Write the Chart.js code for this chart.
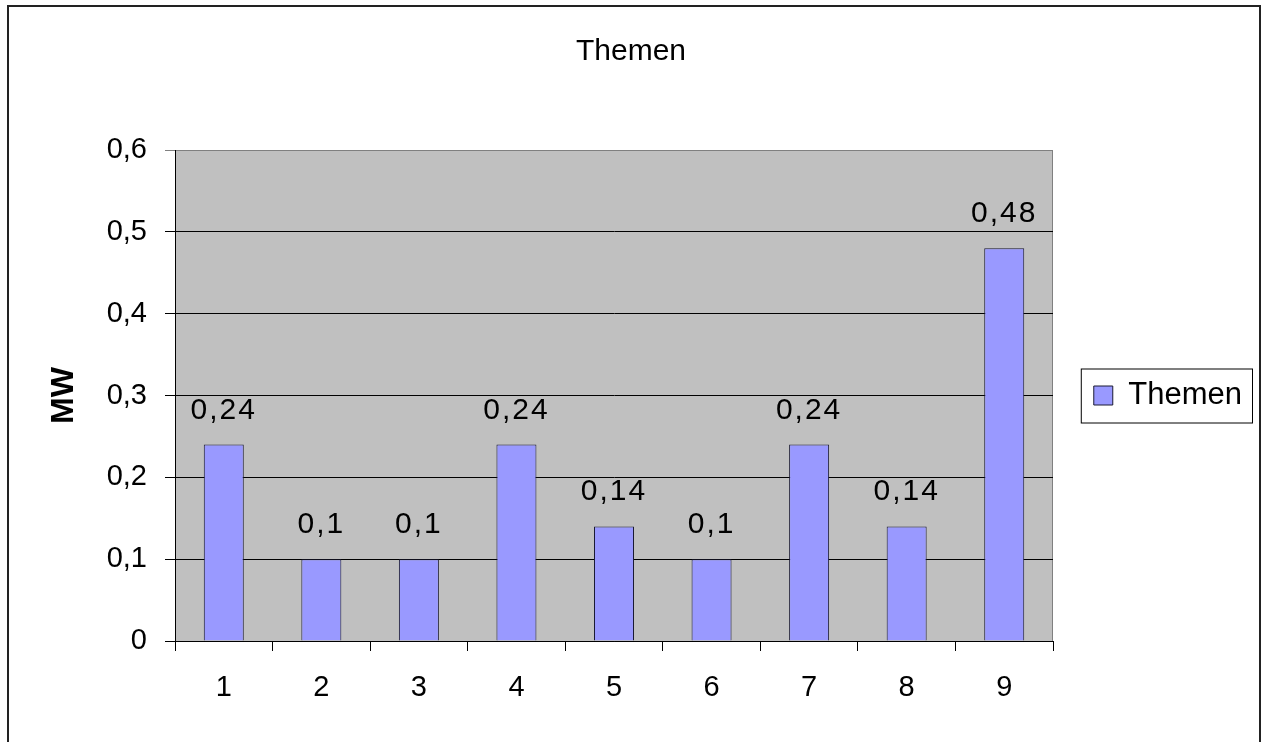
<!DOCTYPE html>
<html>
<head>
<meta charset="utf-8">
<title>Themen</title>
<script src="https://cdn.jsdelivr.net/npm/chart.js@4/dist/chart.umd.min.js"></script>
<style>
    body { margin: 0; background: #fff; }
    canvas { display: block; }
</style>
</head>
<body>
<canvas id="myChart" width="1262" height="742"></canvas>
<script>
const categories = ['1', '2', '3', '4', '5', '6', '7', '8', '9'];
const themenValues = [0.24, 0.1, 0.1, 0.24, 0.14, 0.1, 0.24, 0.14, 0.48];
const yMin = 0;
const yMax = 0.6;
const yStep = 0.1;

const fontFamily = '"Liberation Sans", Arial, sans-serif';
Chart.defaults.font.family = fontFamily;
Chart.defaults.color = '#000';

function deNumber(v) {
    return String(Math.round(v * 100) / 100).replace('.', ',');
}

// legend padding so that the legend column ends up the right width
const legendFontSize = 31;
const measure = document.createElement('canvas').getContext('2d');
measure.font = legendFontSize + 'px ' + fontFamily;
const legendTextWidth = measure.measureText('Themen').width;
const legendPadding = 199 - 10 - (19 + legendFontSize / 2 + legendTextWidth);

const excelLook = {
    id: 'excelLook',
    beforeDraw(chart) {
        const ctx = chart.ctx;
        const a = chart.chartArea;
        ctx.save();
        ctx.fillStyle = '#C0C0C0';
        ctx.fillRect(a.left, a.top, a.right - a.left, a.bottom - a.top);
        ctx.strokeStyle = '#808080';
        ctx.lineWidth = 1;
        ctx.strokeRect(a.left + 0.5, a.top + 0.5, a.right - a.left - 1, a.bottom - a.top);
        ctx.restore();
    },
    afterDatasetsDraw(chart) {
        const ctx = chart.ctx;
        const meta = chart.getDatasetMeta(0);
        const values = chart.data.datasets[0].data;
        ctx.save();
        ctx.font = '30px ' + fontFamily;
        ctx.fillStyle = '#000';
        ctx.textAlign = 'center';
        ctx.textBaseline = 'alphabetic';
        ctx.letterSpacing = '2px';
        meta.data.forEach(function(bar, i) {
            ctx.fillText(deNumber(values[i]), bar.x, bar.y - 26);
        });
        ctx.restore();
    },
    afterDraw(chart) {
        const ctx = chart.ctx;
        ctx.save();
        // legend frame
        const hb = chart.legend.legendHitBoxes[0];
        if (hb) {
            ctx.strokeStyle = '#000';
            ctx.lineWidth = 1;
            ctx.strokeRect(hb.left - 12.5, hb.top + hb.height / 2 - 26.5, hb.width + 23, 54);
        }
        // outer chart frame
        ctx.strokeStyle = '#222';
        ctx.lineWidth = 2;
        ctx.beginPath();
        ctx.moveTo(8, 742);
        ctx.lineTo(8, 6);
        ctx.lineTo(1260, 6);
        ctx.lineTo(1260, 742);
        ctx.stroke();
        ctx.restore();
    }
};

const ctx = document.getElementById('myChart').getContext('2d');
new Chart(ctx, {
    type: 'bar',
    data: {
        labels: categories,
        datasets: [{
            label: 'Themen',
            data: themenValues,
            backgroundColor: '#9999FF',
            borderColor: '#1a1a33',
            borderWidth: 1,
            barPercentage: 0.41,
            categoryPercentage: 1
        }]
    },
    options: {
        responsive: false,
        animation: false,
        devicePixelRatio: 1,
        layout: {
            padding: { left: 10, right: 10, top: 0, bottom: 0 }
        },
        scales: {
            x: {
                afterFit: function(scale) { scale.height = 101; },
                grid: {
                    offset: true,
                    drawOnChartArea: false,
                    tickLength: 10,
                    color: '#000'
                },
                border: { color: '#000' },
                ticks: {
                    font: { size: 29 },
                    padding: 20,
                    color: '#000'
                }
            },
            y: {
                min: yMin,
                max: yMax,
                afterFit: function(scale) { scale.width = 165; },
                grid: {
                    tickLength: 10,
                    color: function(c) {
                        return c.index === 6 ? '#808080' : '#000';
                    }
                },
                border: { color: '#000' },
                ticks: {
                    stepSize: yStep,
                    font: { size: 29 },
                    padding: 18,
                    color: '#000',
                    callback: function(value) {
                        return value === 0 ? '0' : value.toFixed(1).replace('.', ',');
                    }
                },
                title: {
                    display: true,
                    text: 'MW',
                    font: { size: 32, weight: 'bold' },
                    color: '#000',
                    padding: { top: 35, bottom: 0 }
                }
            }
        },
        plugins: {
            title: {
                display: true,
                text: 'Themen',
                font: { size: 30, weight: 'normal' },
                color: '#000',
                padding: { top: 34, bottom: 80 }
            },
            legend: {
                position: 'right',
                fullSize: false,
                labels: {
                    font: { size: legendFontSize },
                    boxWidth: 19,
                    boxHeight: 19,
                    padding: legendPadding,
                    color: '#000'
                }
            },
            tooltip: { enabled: false }
        }
    },
    plugins: [excelLook]
});
</script>
</body>
</html>
